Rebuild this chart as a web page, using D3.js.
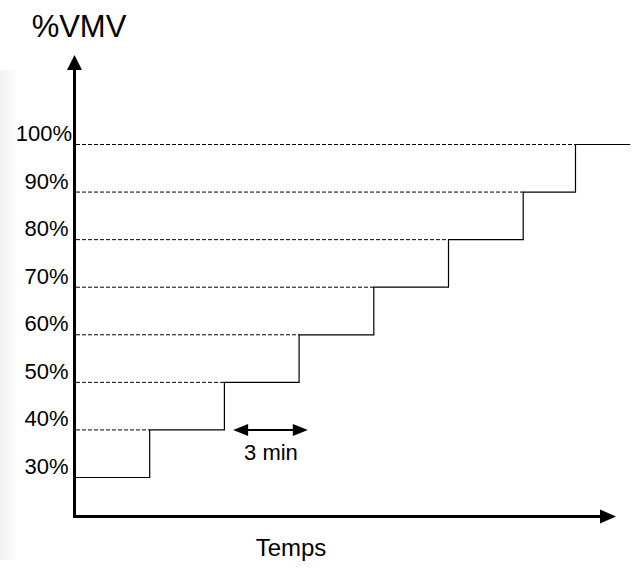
<!DOCTYPE html>
<html>
<head>
<meta charset="utf-8">
<script src="https://cdn.jsdelivr.net/npm/d3@7"></script>
<style>
  html, body { margin: 0; padding: 0; background: #fff; }
  svg { display: block; }
  text { font-family: "Liberation Sans", Arial, sans-serif; fill: #000; }
</style>
</head>
<body>
<svg id="chart" width="636" height="570"></svg>
<script>
// ---- Data ----
const levels = [30, 40, 50, 60, 70, 80, 90, 100];          // % VMV
const tickLabels = ["30%", "40%", "50%", "60%", "70%", "80%", "90%", "100%"];
const stepStarts = [0, 3, 6, 9, 12, 15, 18, 20.1];           // minutes
const endTime = 22.3;                                        // minutes
const stageDuration = 3;                                     // "3 min" annotation
const annotationStart = 6.35;
const yTitle = "%VMV";
const xTitle = "Temps";
const annotationLabel = "3 min";

// ---- Layout ----
const svg = d3.select("#chart");
const x = d3.scaleLinear().domain([0, 3]).range([75, 149.7]);
const y = d3.scaleLinear().domain([30, 100]).range([477, 144]);
const axisX = 74.5, axisY = 516.5;

// faint gradient at the left edge
const defs = svg.append("defs");
const grad = defs.append("linearGradient").attr("id", "edge").attr("x1", 0).attr("x2", 1);
grad.append("stop").attr("offset", 0).attr("stop-color", "#f0f0f0");
grad.append("stop").attr("offset", 1).attr("stop-color", "#ffffff");
svg.append("rect").attr("x", 0).attr("y", 70).attr("width", 18).attr("height", 490).attr("fill", "url(#edge)");

// dashed guide lines
svg.append("g").selectAll("line").data(levels).join("line")
  .attr("x1", axisX + 1.5)
  .attr("x2", (d, i) => i === levels.length - 1 ? x(stepStarts[i]) + 22 : x(stepStarts[i]))
  .attr("y1", d => y(d) + 0.5).attr("y2", d => y(d) + 0.5)
  .attr("stroke", "#000").attr("stroke-width", 1)
  .attr("stroke-dasharray", "4,2");

// step line
const pts = [];
levels.forEach((v, i) => {
  const t0 = stepStarts[i];
  const t1 = i < levels.length - 1 ? stepStarts[i + 1] : endTime;
  pts.push([t0, v], [t1, v]);
});
const line = d3.line().x(d => x(d[0])).y(d => y(d[1]) + 0.5);
svg.append("path").datum(pts).attr("d", line)
  .attr("fill", "none").attr("stroke", "#000").attr("stroke-width", 1.2);

// axes
svg.append("line").attr("x1", axisX).attr("x2", axisX).attr("y1", axisY + 1.5).attr("y2", 68)
  .attr("stroke", "#000").attr("stroke-width", 3);
svg.append("path").attr("d", `M${axisX},55 L${axisX - 7.5},70 L${axisX + 7.5},70 Z`).attr("fill", "#000");
svg.append("line").attr("x1", axisX - 1.5).attr("x2", 602).attr("y1", axisY).attr("y2", axisY)
  .attr("stroke", "#000").attr("stroke-width", 3);
svg.append("path").attr("d", `M616,${axisY} L600,${axisY - 7} L600,${axisY + 7} Z`).attr("fill", "#000");

// tick labels
svg.append("g").selectAll("text").data(levels).join("text")
  .attr("x", (d, i) => i === levels.length - 1 ? 72 : 68.5)
  .attr("y", d => y(d) - 3)
  .attr("text-anchor", "end")
  .attr("font-size", 22)
  .text((d, i) => tickLabels[i]);

// titles
svg.append("text").attr("x", 79).attr("y", 37).attr("text-anchor", "middle")
  .attr("font-size", 31).text(yTitle);
svg.append("text").attr("x", 291).attr("y", 556).attr("text-anchor", "middle")
  .attr("font-size", 24).text(xTitle);

// 3 min annotation
const ax0 = x(annotationStart), ax1 = x(annotationStart + stageDuration), ay = y(40) + 0.5;
svg.append("line").attr("x1", ax0 + 10).attr("x2", ax1 - 10).attr("y1", ay).attr("y2", ay)
  .attr("stroke", "#000").attr("stroke-width", 2);
svg.append("path").attr("d", `M${ax0},${ay} L${ax0 + 15},${ay - 6} L${ax0 + 15},${ay + 6} Z`).attr("fill", "#000");
svg.append("path").attr("d", `M${ax1},${ay} L${ax1 - 15},${ay - 6} L${ax1 - 15},${ay + 6} Z`).attr("fill", "#000");
svg.append("text").attr("x", (ax0 + ax1) / 2 + 0.5).attr("y", 460).attr("text-anchor", "middle")
  .attr("font-size", 22).text(annotationLabel);
</script>
</body>
</html>
